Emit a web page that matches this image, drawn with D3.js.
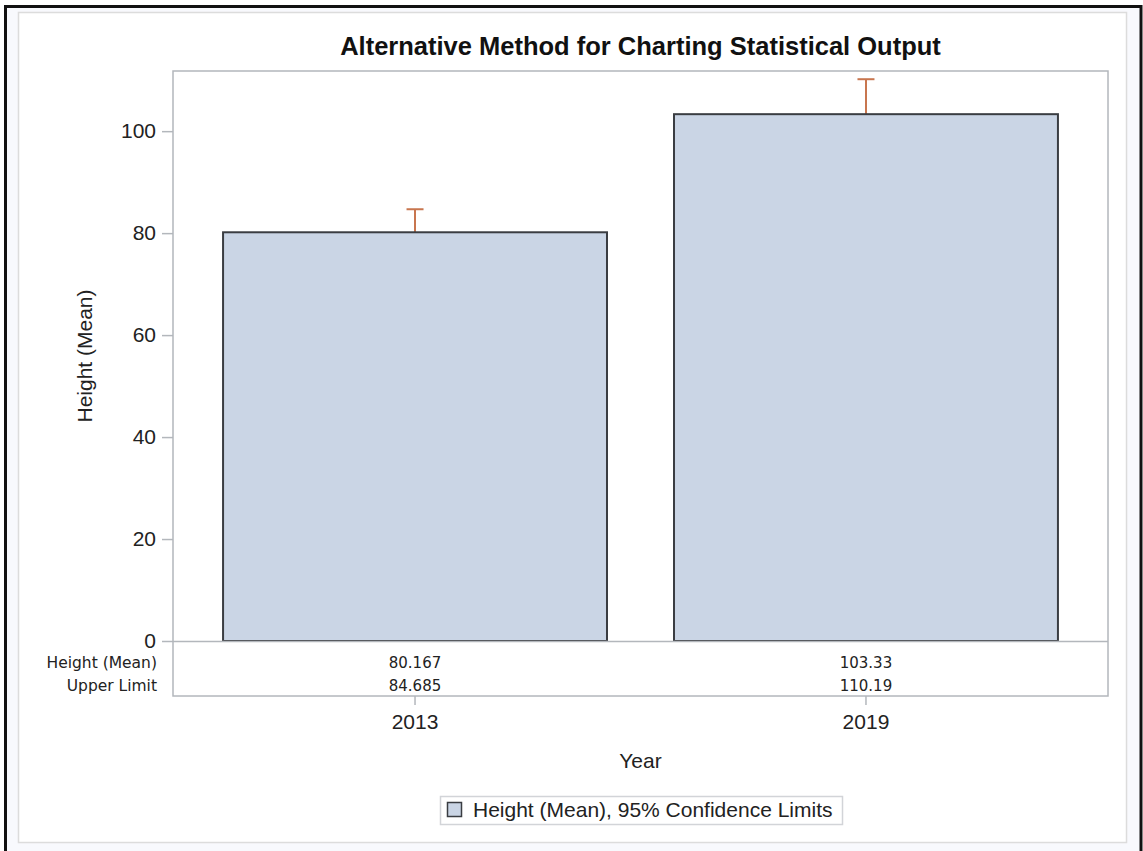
<!DOCTYPE html>
<html>
<head>
<meta charset="utf-8">
<script src="https://cdn.jsdelivr.net/npm/d3@7"></script>
<style>
  html, body { margin: 0; padding: 0; background: #ffffff; }
  svg { display: block; }
</style>
</head>
<body>
<svg id="chart" width="1143" height="851"></svg>
<script>
// Bar chart of mean height by year with upper 95% confidence limits
const years = ["2013", "2019"];
const meanHeight = [80.167, 103.33];
const upperLimit = [84.685, 110.19];
const meanLabels = ["80.167", "103.33"];
const upperLabels = ["84.685", "110.19"];
const yTicks = [0, 20, 40, 60, 80, 100];
const tableRows = ["Height (Mean)", "Upper Limit"];

const svg = d3.select("#chart");
const W = 1143, H = 851;

// Page frame: dark outer edge, pale surround, white panel
svg.append("rect").attr("x", 0).attr("y", 0).attr("width", W).attr("height", H).attr("fill", "#ffffff");
svg.append("rect").attr("x", 5.5).attr("y", 6.5).attr("width", 1135.5).attr("height", 860)
  .attr("fill", "#f8f9fd").attr("stroke", "#111111").attr("stroke-width", 3);
svg.append("rect").attr("x", 18.5).attr("y", 12.5).attr("width", 1108).attr("height", 830)
  .attr("fill", "#ffffff").attr("stroke", "#dcdcdc").attr("stroke-width", 1.5);

const plot = { left: 173, right: 1108, top: 71, zero: 641, bottom: 696 };
const yMax = 111.8;

const x = d3.scaleBand()
  .domain(years)
  .range([plot.left, plot.right])
  .paddingInner(0.1486)
  .paddingOuter(0.111);

const y = d3.scaleLinear()
  .domain([0, yMax])
  .range([plot.zero, plot.top]);

const font = "'Liberation Sans', Arial, sans-serif";
const tableFont = "'DejaVu Sans', Verdana, sans-serif";
const frameColor = "#b3b7bc";
const textColor = "#222";

// Title
svg.append("text")
  .attr("x", (plot.left + plot.right) / 2)
  .attr("y", 55)
  .attr("text-anchor", "middle")
  .attr("font-family", font)
  .attr("font-weight", "bold")
  .attr("font-size", 25.5)
  .attr("fill", "#111")
  .text("Alternative Method for Charting Statistical Output");

// Y axis ticks and labels
const yAxis = d3.axisLeft(y).tickValues(yTicks).tickSize(11).tickPadding(6).tickFormat(d3.format("d"));
const gy = svg.append("g").attr("transform", `translate(${plot.left},0)`).call(yAxis);
gy.select(".domain").remove();
gy.selectAll(".tick line").attr("stroke", frameColor).attr("stroke-width", 1.5);
gy.selectAll(".tick text")
  .attr("font-family", font).attr("font-size", 21).attr("fill", textColor);

// Y axis title
svg.append("text")
  .attr("transform", `translate(92,${(plot.top + plot.zero) / 2}) rotate(-90)`)
  .attr("text-anchor", "middle")
  .attr("font-family", font)
  .attr("font-size", 21)
  .attr("fill", textColor)
  .text("Height (Mean)");

const barData = years.map((yr, i) => ({ year: yr, mean: meanHeight[i], upper: upperLimit[i] }));

// Error bars (drawn first so the bar outline sits on top of the stem base)
const err = svg.append("g");
barData.forEach(d => {
  const cx = x(d.year) + x.bandwidth() / 2;
  err.append("line")
    .attr("x1", cx).attr("x2", cx)
    .attr("y1", y(d.mean)).attr("y2", y(d.upper))
    .attr("stroke", "#c8764f").attr("stroke-width", 2);
  err.append("line")
    .attr("x1", cx - 8.5).attr("x2", cx + 8.5)
    .attr("y1", y(d.upper)).attr("y2", y(d.upper))
    .attr("stroke", "#c8764f").attr("stroke-width", 2);
});

// Bars
svg.append("g").selectAll("rect")
  .data(barData)
  .join("rect")
  .attr("x", d => x(d.year))
  .attr("y", d => y(d.mean))
  .attr("width", x.bandwidth())
  .attr("height", d => y(0) - y(d.mean))
  .attr("fill", "#cad5e5")
  .attr("stroke", "#3a3d42")
  .attr("stroke-width", 2);

// Plot frame including the statistics table strip
svg.append("rect")
  .attr("x", plot.left).attr("y", plot.top)
  .attr("width", plot.right - plot.left).attr("height", plot.bottom - plot.top)
  .attr("fill", "none").attr("stroke", frameColor).attr("stroke-width", 1.5);
svg.append("line")
  .attr("x1", plot.left).attr("x2", plot.right)
  .attr("y1", plot.zero + 0.5).attr("y2", plot.zero + 0.5)
  .attr("stroke", frameColor).attr("stroke-width", 1.5);

// Statistics table under the axis
const rowY = [663, 686];
tableRows.forEach((label, r) => {
  svg.append("text")
    .attr("x", 157).attr("y", rowY[r])
    .attr("dy", "0.35em")
    .attr("text-anchor", "end")
    .attr("font-family", tableFont)
    .attr("font-size", 15.5)
    .attr("fill", textColor)
    .text(label);
});
const rowValues = [meanLabels, upperLabels];
rowValues.forEach((vals, r) => {
  svg.append("g").selectAll("text")
    .data(years)
    .join("text")
    .attr("x", d => x(d) + x.bandwidth() / 2)
    .attr("y", rowY[r])
    .attr("dy", "0.35em")
    .attr("text-anchor", "middle")
    .attr("font-family", tableFont)
    .attr("font-size", 15)
    .attr("fill", textColor)
    .text((d, i) => vals[i]);
});

// X axis below the table
const xAxis = d3.axisBottom(x).tickSize(9).tickPadding(9);
const gx = svg.append("g").attr("transform", `translate(0,${plot.bottom})`).call(xAxis);
gx.select(".domain").remove();
gx.selectAll(".tick line").attr("stroke", frameColor).attr("stroke-width", 1.5);
gx.selectAll(".tick text")
  .attr("font-family", font).attr("font-size", 21).attr("fill", textColor);

svg.append("text")
  .attr("x", (plot.left + plot.right) / 2)
  .attr("y", 768)
  .attr("text-anchor", "middle")
  .attr("font-family", font)
  .attr("font-size", 21)
  .attr("fill", textColor)
  .text("Year");

// Legend
const legend = svg.append("g");
legend.append("rect")
  .attr("x", 440.5).attr("y", 796.5).attr("width", 402).attr("height", 28)
  .attr("fill", "#ffffff").attr("stroke", "#d2d4d8").attr("stroke-width", 1.5);
legend.append("rect")
  .attr("x", 447.5).attr("y", 802.5).attr("width", 14).attr("height", 14)
  .attr("fill", "#cad5e5").attr("stroke", "#3a3d42").attr("stroke-width", 1.5);
legend.append("text")
  .attr("x", 473).attr("y", 810)
  .attr("dy", "0.35em")
  .attr("font-family", font)
  .attr("font-size", 21)
  .attr("fill", textColor)
  .text("Height (Mean), 95% Confidence Limits");
</script>
</body>
</html>
